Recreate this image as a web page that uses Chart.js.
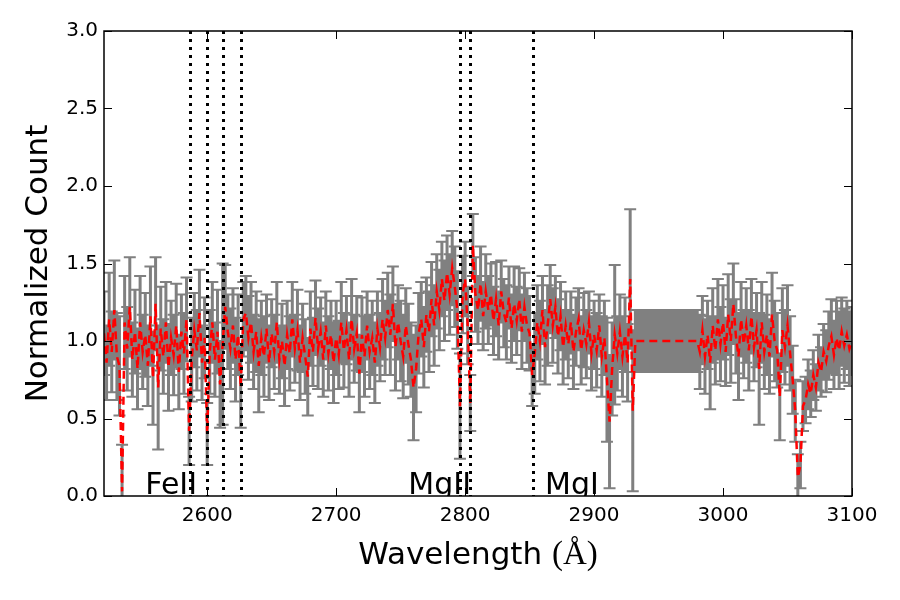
<!DOCTYPE html>
<html>
<head>
<meta charset="utf-8">
<script src="https://cdn.jsdelivr.net/npm/chart.js@4.4.1/dist/chart.umd.min.js"></script>
<style>
  html, body { margin: 0; padding: 0; background: #fff; }
</style>
</head>
<body>
<canvas id="spec" width="900" height="600"></canvas>
<script>
// spectrum, sampled every 2 A
const wavelength = [
  2520,2522,2524,2526,2528,2530,2532,2534,2536,2538,
  2540,2542,2544,2546,2548,2550,2552,2554,2556,2558,
  2560,2562,2564,2566,2568,2570,2572,2574,2576,2578,
  2580,2582,2584,2586,2588,2590,2592,2594,2596,2598,
  2600,2602,2604,2606,2608,2610,2612,2614,2616,2618,
  2620,2622,2624,2626,2628,2630,2632,2634,2636,2638,
  2640,2642,2644,2646,2648,2650,2652,2654,2656,2658,
  2660,2662,2664,2666,2668,2670,2672,2674,2676,2678,
  2680,2682,2684,2686,2688,2690,2692,2694,2696,2698,
  2700,2702,2704,2706,2708,2710,2712,2714,2716,2718,
  2720,2722,2724,2726,2728,2730,2732,2734,2736,2738,
  2740,2742,2744,2746,2748,2750,2752,2754,2756,2758,
  2760,2762,2764,2766,2768,2770,2772,2774,2776,2778,
  2780,2782,2784,2786,2788,2790,2792,2794,2796,2798,
  2800,2802,2804,2806,2808,2810,2812,2814,2816,2818,
  2820,2822,2824,2826,2828,2830,2832,2834,2836,2838,
  2840,2842,2844,2846,2848,2850,2852,2854,2856,2858,
  2860,2862,2864,2866,2868,2870,2872,2874,2876,2878,
  2880,2882,2884,2886,2888,2890,2892,2894,2896,2898,
  2900,2902,2904,2906,2908,2910,2912,2914,2916,2918,
  2920,2922,2924,2926,2928,2930,2932,2934,2936,2938,
  2940,2942,2944,2946,2948,2950,2952,2954,2956,2958,
  2960,2962,2964,2966,2968,2970,2972,2974,2976,2978,
  2980,2982,2984,2986,2988,2990,2992,2994,2996,2998,
  3000,3002,3004,3006,3008,3010,3012,3014,3016,3018,
  3020,3022,3024,3026,3028,3030,3032,3034,3036,3038,
  3040,3042,3044,3046,3048,3050,3052,3054,3056,3058,
  3060,3062,3064,3066,3068,3070,3072,3074,3076,3078,
  3080,3082,3084,3086,3088,3090,3092,3094,3096,3098,
  3100
];

const flux = [
  1.05,0.86,1.14,0.93,1.20,0.90,0.84,0.03,1.12,0.95,
  1.22,0.88,1.06,0.82,1.12,0.93,1.04,0.84,1.16,0.76,
  1.24,0.70,1.08,0.90,1.12,0.83,1.02,0.91,1.10,0.80,
  1.06,0.92,1.14,0.42,0.88,1.07,0.94,1.18,0.86,1.02,
  0.40,0.93,1.12,0.88,1.06,0.72,0.98,1.22,1.06,0.95,
  1.10,0.88,1.04,0.70,1.14,1.18,1.02,1.12,0.93,1.06,
  0.84,1.02,0.90,1.08,0.86,1.05,0.93,1.12,0.88,1.00,
  0.84,1.04,0.92,1.14,0.95,1.07,0.86,1.02,0.90,0.77,
  1.08,0.93,1.15,0.95,1.06,0.88,1.10,0.92,1.04,0.86,
  1.02,0.91,1.12,0.94,1.07,0.88,1.14,0.95,1.05,0.79,
  1.04,0.90,1.10,0.93,1.02,0.86,1.08,0.96,1.14,1.02,
  1.20,1.04,1.24,0.96,1.12,1.00,0.90,1.10,0.98,0.88,
  0.70,0.82,1.05,1.14,0.96,1.17,1.06,1.27,1.10,1.32,
  1.20,1.40,1.26,1.44,1.30,1.47,1.35,1.20,0.58,1.30,
  1.40,1.10,0.60,1.62,1.30,1.20,1.37,1.16,1.32,1.20,
  1.30,1.13,1.27,1.10,1.32,1.18,1.12,1.28,1.08,1.24,
  1.13,1.27,1.06,1.22,1.10,1.05,0.78,0.92,1.12,1.00,
  1.20,0.96,1.10,1.27,1.10,1.22,1.03,1.16,0.96,1.10,
  0.98,1.12,0.93,1.06,1.14,0.94,1.07,0.98,1.12,0.92,
  1.04,0.94,1.10,0.90,1.02,0.75,0.48,0.82,1.04,0.92,
  1.06,0.90,1.04,0.86,1.40,0.55,1.00,1.00,1.00,1.00,
  1.00,1.00,1.00,1.00,1.00,1.00,1.00,1.00,1.00,1.00,
  1.00,1.00,1.00,1.00,1.00,1.00,1.00,1.00,1.00,1.00,
  1.00,0.93,1.07,0.90,1.04,0.86,1.10,0.94,1.14,0.98,
  1.12,0.93,1.17,1.00,1.24,1.03,0.90,1.14,0.98,1.10,
  0.94,1.16,0.96,1.07,0.82,1.12,0.93,1.04,0.90,1.17,
  1.00,0.94,0.64,1.07,0.96,1.10,0.92,0.75,0.55,0.12,
  0.20,0.58,0.62,0.72,0.66,0.78,0.70,0.86,0.80,0.93,
  0.87,0.97,1.03,0.91,1.02,0.94,1.06,0.97,1.04,0.95,
  1.00
];

const fluxErr = [
  0.27,0.24,0.30,0.26,0.32,0.28,0.32,0.30,0.30,0.27,
  0.32,0.24,0.27,0.26,0.30,0.24,0.27,0.26,0.32,0.30,
  0.30,0.40,0.27,0.24,0.26,0.28,0.24,0.26,0.27,0.24,
  0.24,0.26,0.27,0.22,0.27,0.24,0.26,0.28,0.24,0.26,
  0.20,0.27,0.26,0.24,0.27,0.28,0.52,0.27,0.24,0.26,
  0.24,0.27,0.26,0.26,0.24,0.24,0.27,0.26,0.24,0.26,
  0.30,0.24,0.26,0.22,0.24,0.22,0.24,0.26,0.22,0.24,
  0.26,0.22,0.24,0.24,0.22,0.26,0.24,0.22,0.24,0.25,
  0.24,0.22,0.24,0.26,0.22,0.24,0.22,0.24,0.22,0.26,
  0.24,0.22,0.26,0.24,0.22,0.24,0.26,0.22,0.24,0.25,
  0.24,0.26,0.22,0.24,0.24,0.26,0.24,0.22,0.26,0.24,
  0.24,0.26,0.24,0.28,0.24,0.26,0.27,0.24,0.26,0.24,
  0.34,0.28,0.26,0.24,0.26,0.24,0.26,0.24,0.26,0.24,
  0.26,0.24,0.26,0.24,0.26,0.24,0.26,0.25,0.34,0.25,
  0.24,0.25,0.18,0.20,0.24,0.22,0.24,0.22,0.24,0.22,
  0.20,0.22,0.24,0.22,0.20,0.22,0.24,0.20,0.22,0.24,
  0.22,0.20,0.24,0.22,0.24,0.24,0.20,0.26,0.24,0.26,
  0.22,0.24,0.26,0.22,0.24,0.20,0.24,0.22,0.24,0.22,
  0.22,0.20,0.24,0.22,0.20,0.22,0.24,0.22,0.20,0.24,
  0.22,0.24,0.20,0.26,0.24,0.40,0.43,0.30,0.45,0.24,
  0.24,0.26,0.24,0.25,0.45,0.52,0.20,0.20,0.20,0.20,
  0.20,0.20,0.20,0.20,0.20,0.20,0.20,0.20,0.20,0.20,
  0.20,0.20,0.20,0.20,0.20,0.20,0.20,0.20,0.20,0.20,
  0.20,0.24,0.22,0.24,0.22,0.30,0.24,0.22,0.26,0.24,
  0.24,0.22,0.26,0.27,0.26,0.24,0.28,0.24,0.22,0.24,
  0.26,0.24,0.22,0.24,0.36,0.26,0.24,0.26,0.24,0.27,
  0.26,0.24,0.28,0.27,0.24,0.26,0.24,0.22,0.20,0.15,
  0.15,0.16,0.15,0.16,0.15,0.16,0.15,0.18,0.16,0.18,
  0.20,0.22,0.24,0.22,0.24,0.25,0.22,0.24,0.22,0.24,
  0.22
];

// absorption lines (rest wavelength) and their labels
const lineCenters = [2586.65, 2600.17, 2612.65, 2626.45, 2796.35, 2803.53, 2852.96];
const lineNames   = ['FeII', 'MgII', 'MgI'];
const lineLabelX  = [2552, 2756, 2862];

const xTicks = [2600, 2700, 2800, 2900, 3000, 3100];
const yTicks = [0, 0.5, 1.0, 1.5, 2.0, 2.5, 3.0];

const FONT = '"DejaVu Sans", sans-serif';

// gray error bars with caps, under the red line
const errorBars = {
  id: 'errorBars',
  beforeDatasetsDraw(chart) {
    const { ctx, chartArea: a, scales: { x, y } } = chart;
    ctx.save();
    ctx.beginPath();
    ctx.rect(a.left, a.top, a.width, a.height);
    ctx.clip();
    ctx.strokeStyle = '#808080';
    ctx.lineWidth = 3;
    ctx.beginPath();
    wavelength.forEach((w, i) => {
      const px = x.getPixelForValue(w);
      ctx.moveTo(px, y.getPixelForValue(flux[i] + fluxErr[i]));
      ctx.lineTo(px, y.getPixelForValue(flux[i] - fluxErr[i]));
    });
    ctx.stroke();
    ctx.lineWidth = 2;
    ctx.beginPath();
    wavelength.forEach((w, i) => {
      const px = x.getPixelForValue(w);
      const hi = y.getPixelForValue(flux[i] + fluxErr[i]);
      const lo = y.getPixelForValue(flux[i] - fluxErr[i]);
      ctx.moveTo(px - 6, hi); ctx.lineTo(px + 6, hi);
      ctx.moveTo(px - 6, lo); ctx.lineTo(px + 6, lo);
    });
    ctx.stroke();
    ctx.restore();
  }
};

// dotted line markers, labels, frame, inward ticks, axis titles
const decorations = {
  id: 'decorations',
  afterDatasetsDraw(chart) {
    const { ctx, chartArea: a, scales: { x, y } } = chart;
    ctx.save();
    ctx.beginPath();
    ctx.rect(a.left, a.top, a.width, a.height);
    ctx.clip();
    ctx.strokeStyle = '#000';
    ctx.lineWidth = 3;
    ctx.setLineDash([3, 5]);
    lineCenters.forEach(c => {
      const px = Math.round(x.getPixelForValue(c)) + 0.5;
      ctx.beginPath();
      ctx.moveTo(px, a.top);
      ctx.lineTo(px, a.bottom);
      ctx.stroke();
    });
    ctx.setLineDash([]);
    ctx.fillStyle = '#000';
    ctx.font = '30px ' + FONT;
    ctx.textAlign = 'left';
    ctx.textBaseline = 'alphabetic';
    lineNames.forEach((n, i) => {
      ctx.fillText(n, x.getPixelForValue(lineLabelX[i]), y.getPixelForValue(0.015));
    });
    ctx.restore();
  },
  afterDraw(chart) {
    const { ctx, chartArea: a, scales: { x, y } } = chart;
    ctx.save();
    ctx.strokeStyle = '#000';
    ctx.lineWidth = 1.5;
    ctx.strokeRect(a.left, a.top, a.width, a.height);
    ctx.lineWidth = 1;
    ctx.beginPath();
    xTicks.forEach(v => {
      const px = Math.round(x.getPixelForValue(v)) + 0.5;
      ctx.moveTo(px, a.bottom); ctx.lineTo(px, a.bottom - 8);
      ctx.moveTo(px, a.top); ctx.lineTo(px, a.top + 8);
    });
    yTicks.forEach(v => {
      const py = Math.round(y.getPixelForValue(v)) + 0.5;
      ctx.moveTo(a.left, py); ctx.lineTo(a.left + 8, py);
      ctx.moveTo(a.right, py); ctx.lineTo(a.right - 8, py);
    });
    ctx.stroke();

    // axis titles
    ctx.fillStyle = '#000';
    ctx.save();
    ctx.translate(39, (a.top + a.bottom) / 2);
    ctx.rotate(-Math.PI / 2);
    ctx.font = '31px ' + FONT;
    ctx.textAlign = 'center';
    ctx.textBaseline = 'middle';
    ctx.fillText('Normalized Count', 0, 0);
    ctx.restore();

    const part1 = 'Wavelength ';
    const part2 = '(Å)';
    ctx.font = '31px ' + FONT;
    const w1 = ctx.measureText(part1).width;
    ctx.font = '33px "Liberation Serif", serif';
    const w2 = ctx.measureText(part2).width;
    const sx = (a.left + a.right) / 2 - (w1 + w2) / 2;
    ctx.textAlign = 'left';
    ctx.textBaseline = 'alphabetic';
    ctx.font = '31px ' + FONT;
    ctx.fillText(part1, sx, 564);
    ctx.font = '33px "Liberation Serif", serif';
    ctx.fillText(part2, sx + w1, 564);
    ctx.restore();
  }
};

const ctx = document.getElementById('spec').getContext('2d');

new Chart(ctx, {
  type: 'line',
  data: {
    datasets: [{
      data: wavelength.map((w, i) => ({ x: w, y: flux[i] })),
      borderColor: '#ff0000',
      borderWidth: 2.5,
      borderDash: [8, 5],
      pointRadius: 0,
      tension: 0,
      fill: false,
    }]
  },
  options: {
    responsive: false,
    devicePixelRatio: 1,
    animation: false,
    layout: { padding: { left: 0, right: 48, top: 31, bottom: 0 } },
    plugins: {
      legend: { display: false },
      tooltip: { enabled: false },
    },
    scales: {
      x: {
        type: 'linear',
        min: 2520,
        max: 3100,
        afterFit: s => { s.height = 104; },
        afterBuildTicks: s => { s.ticks = xTicks.map(v => ({ value: v })); },
        grid: { display: false, drawTicks: false },
        border: { display: false },
        ticks: {
          padding: 8,
          maxRotation: 0,
          font: { family: FONT, size: 20 },
          color: '#000',
          callback: v => String(v),
        }
      },
      y: {
        min: 0,
        max: 3,
        afterFit: s => { s.width = 104; },
        afterBuildTicks: s => { s.ticks = yTicks.map(v => ({ value: v })); },
        grid: { display: false, drawTicks: false },
        border: { display: false },
        ticks: {
          padding: 6,
          font: { family: FONT, size: 20 },
          color: '#000',
          callback: v => v.toFixed(1),
        }
      }
    }
  },
  plugins: [errorBars, decorations]
});
</script>
</body>
</html>
